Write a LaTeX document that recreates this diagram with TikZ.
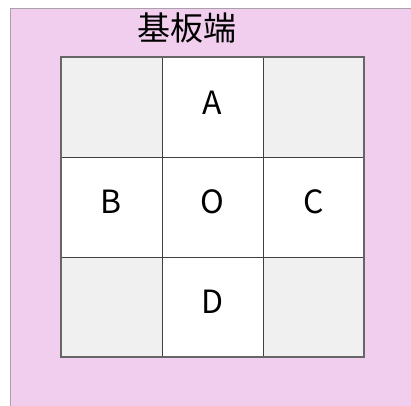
\documentclass[tikz,border=0pt]{standalone}
\usepackage{fontspec}
\newfontfamily\cjk{Noto Sans CJK JP}
\definecolor{bgpink}{RGB}{241,205,238}
\definecolor{cellgray}{RGB}{240,240,240}
\definecolor{gridline}{RGB}{64,64,64}
\definecolor{frameline}{RGB}{170,160,170}
\tikzset{
  cell/.style={draw=gridline, line width=0.9bp, minimum width=101bp, minimum height=100bp, inner sep=0pt, outer sep=0pt, text=black},
  corner/.style={cell, fill=cellgray},
  mid/.style={cell, fill=white},
  title/.style={font=\cjk\fontsize{33bp}{33bp}\selectfont, text=black, inner sep=0pt},
  letter/.style={font=\cjk\fontsize{32bp}{32bp}\selectfont, text=black, inner sep=0pt}
}
\begin{document}
\begin{tikzpicture}[x=1bp,y=-1bp]
\useasboundingbox (0,0) rectangle (411,406);
\fill[white] (0,0) rectangle (411,406);
\draw[frameline, fill=bgpink, line width=1bp] (411,406) -- (10.5,406) -- (10.5,8.5) -- (411,8.5);
\node[title] (t) at (187,28) {基板端};
\node[corner] (tl) at (111.5,107) {};
\node[mid] (a) at (212.5,107) {};
\node[corner] (tr) at (313.5,107) {};
\node[mid] (b) at (111.5,207) {};
\node[mid] (o) at (212.5,207) {};
\node[mid] (c) at (313.5,207) {};
\node[corner] (bl) at (111.5,307) {};
\node[mid] (d) at (212.5,307) {};
\node[corner] (br) at (313.5,307) {};
\draw[gridline!80, line width=1.4bp] (tl.north west) rectangle (br.south east);
\node[letter] (la) at ([yshift=4bp]a.center) {A};
\node[letter] (lb) at ([yshift=5bp]b.center) {B};
\node[letter] (lo) at ([yshift=5bp]o.center) {O};
\node[letter] (lc) at ([yshift=5bp]c.center) {C};
\node[letter] (ld) at ([yshift=5bp]d.center) {D};
\end{tikzpicture}
\end{document}
